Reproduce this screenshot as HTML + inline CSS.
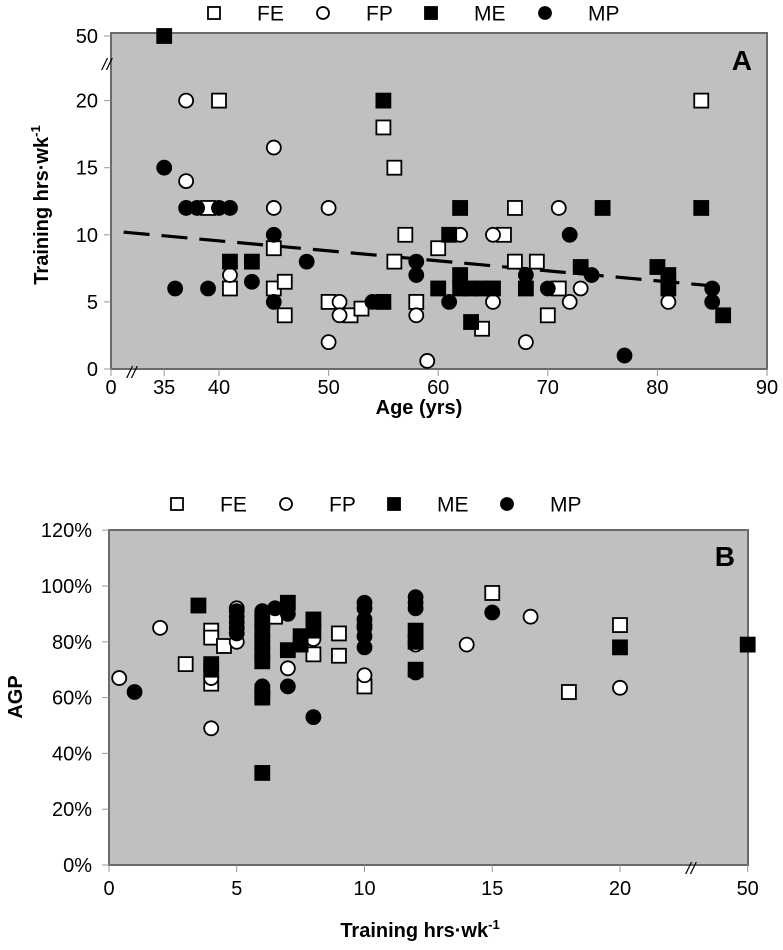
<!DOCTYPE html>
<html><head><meta charset="utf-8"><style>
body{margin:0;background:#fff;}
svg{display:block;font-family:"Liberation Sans",Arial,sans-serif;}
</style></head><body>
<svg id="fig" width="783" height="950" viewBox="0 0 783 950"></svg>
<script>
// ---------- Chart A data (age, training hrs/wk) ----------
const aFE_x=[40,55,56,39,57,60,45,56,41,45,46,46,50,52,53,58,84,67,66,67,69,71,70,64];
const aFE_y=[20,18,15,12,10,9,9,8,6,6,6.5,4,5,4,4.5,5,20,12,10,8,8,6,4,3];
const aFP_x=[37,45,37,45,50,41,51,51,58,50,59,62,65,71,73,65,72,81,68];
const aFP_y=[20,16.5,14,12,12,7,5,4,4,2,0.6,10,10,12,6,5,5,5,2];
const aME_x=[35,55,41,43,55,60,62,61,75,84,62,62,63,64,65,68,63,73,80,81,81,86];
const aME_y=[50,20,8,8,5,6,12,10,12,12,7,6,6,6,6,6,3.5,7.6,7.6,7,6,4];
const aMP_x=[35,37,38,40,41,45,48,36,39,43,45,54,58,58,61,68,70,72,74,77,85,85];
const aMP_y=[15,12,12,12,12,10,8,6,6,6.5,5,5,8,7,5,7,6,10,7,1,6,5];
const aTrendAge=[31.3,85.5];
const aTrendInt=9.55, aTrendSlope=-0.0745; // y = int + slope*(age-40)
const aXTicks=[0,35,40,50,60,70,80,90];
const aYTicks=[0,5,10,15,20,50];

// ---------- Chart B data (training hrs/wk, AGP %) ----------
const bFE_x=[3,4,4,4,4.5,6.5,8,9,9,10,15,20,18];
const bFE_y=[72,84,81.5,65,78.5,89,75.5,83,75,64,97.5,86,62];
const bFP_x=[0.4,2,4,4,5,5,7,10,10,8,14,16.5,20,12];
const bFP_y=[67,85,67,49,80,92,70.5,68,85,81,79,89,63.5,79];
const bME_x=[3.5,4,4,6,6,6,6,6,6,6,6,7,7,7.5,7.5,8,8,12,12,12,20,50];
const bME_y=[93,72,70,33,88,84,80,76,73,62,60,94,77,82,79,88,84,84,80,70,78,79];
const bMP_x=[1,5,5,5,5,5,6,6,6,6,6,6,6.5,7,7,8,10,10,10,10,10,10,12,12,12,12,12,15];
const bMP_y=[62,91,89,87,85,83,91,86,80,75,64,62,92,90,64,53,94,92,88,86,82,78,96,94,92,80,69,90.5];
const bXTicks=[0,5,10,15,20,50];
const bYTicks=[0,20,40,60,80,100,120];

const NS="http://www.w3.org/2000/svg";
const svg=document.getElementById('fig');
function mk(tag,attrs,parent,text){const e=document.createElementNS(NS,tag);for(const k in attrs)e.setAttribute(k,attrs[k]);if(text!==undefined)e.textContent=text;(parent||svg).appendChild(e);return e;}

function axA(a){return a===0?111:219+(a-40)*10.96;}
function ayA(v){return v>=50?36:369-v*13.42;}
function axB(h){return h>=50?747.7:109+h*25.55;}
function ayB(p){return 865-p*2.79;}

function marker(g,shape,x,y,filled,size){
  const s=size||14;
  let e;
  if(shape==='sq') e=mk('rect',{x:x-s/2,y:y-s/2,width:s,height:s,fill:filled?'#000':'#fff',stroke:'#000','stroke-width':1.8},g);
  else e=mk('circle',{cx:x,cy:y,r:s/2,fill:filled?'#000':'#fff',stroke:'#000','stroke-width':1.8},g);
  return e;
}

function legend(y,xs,name){
  const g=mk('g',{},svg);
  
  
  const items=[['sq',false,'FE'],['ci',false,'FP'],['sq',true,'ME'],['ci',true,'MP']];
  items.forEach((it,i)=>{
    const ge=mk('g',{},g);
    
    
    marker(ge,it[0],xs[i],y,it[1],12);
    mk('text',{x:xs[i]+43,y:y+7.5,'font-size':21},ge,it[2]);
  });
}

// ================= Chart A =================
legend(13,[214,323,431,545],'legend-a');
const gA=mk('g',{},svg);


const pA=mk('rect',{x:111,y:33,width:656,height:336,fill:'#c0c0c0',stroke:'#6a6a6a','stroke-width':2},gA);


aYTicks.forEach(v=>{
  const y=ayA(v);
  mk('line',{x1:104,y1:y,x2:111,y2:y,stroke:'#999','stroke-width':1},gA);
  const t=mk('text',{x:98,y:y+7,'font-size':20,'text-anchor':'end'},gA,String(v));
  
  
});
aXTicks.forEach(a=>{
  const x=axA(a);
  mk('line',{x1:x,y1:369,x2:x,y2:376,stroke:'#999','stroke-width':1},gA);
  const t=mk('text',{x:x,y:394,'font-size':20,'text-anchor':'middle'},gA,String(a));
  
  
});
mk('text',{x:102,y:70,'font-size':17,'font-style':'italic'},gA,'//');
mk('text',{x:127,y:378,'font-size':17,'font-style':'italic'},gA,'//');
const tl=mk('line',{x1:axA(aTrendAge[0]),y1:ayA(aTrendInt+aTrendSlope*(aTrendAge[0]-40)),x2:axA(aTrendAge[1]),y2:ayA(aTrendInt+aTrendSlope*(aTrendAge[1]-40)),stroke:'#000','stroke-width':3.2,'stroke-dasharray':'26 12'},gA);


function seriesA(xs,ys,shape,filled,name){
  const g=mk('g',{},gA);
  
  
  xs.forEach((x,i)=>{
    const m=marker(g,shape,axA(x),ayA(ys[i]),filled);
    
    
  });
}
seriesA(aFE_x,aFE_y,'sq',false,'series-fe-a');
seriesA(aFP_x,aFP_y,'ci',false,'series-fp-a');
seriesA(aME_x,aME_y,'sq',true,'series-me-a');
seriesA(aMP_x,aMP_y,'ci',true,'series-mp-a');
const la=mk('text',{x:752,y:70,'font-size':28,'font-weight':'bold','text-anchor':'end'},gA,'A');


const xta=mk('text',{x:419,y:414,'font-size':20,'font-weight':'bold','text-anchor':'middle'},gA,'Age (yrs)');


const yta=mk('text',{transform:'translate(48,205) rotate(-90)','font-size':20,'font-weight':'bold','text-anchor':'middle'},gA);


yta.innerHTML='Training hrs·wk<tspan font-size="13" dy="-8">-1</tspan>';

// ================= Chart B =================
legend(504,[177,286,394,507],'legend-b');
const gB=mk('g',{},svg);


const pB=mk('rect',{x:109,y:530,width:639,height:335,fill:'#c0c0c0',stroke:'#6a6a6a','stroke-width':2},gB);


bYTicks.forEach(v=>{
  const y=ayB(v);
  mk('line',{x1:102,y1:y,x2:109,y2:y,stroke:'#999','stroke-width':1},gB);
  const t=mk('text',{x:92,y:y+7,'font-size':20,'text-anchor':'end'},gB,v+'%');
  
  
});
bXTicks.forEach(h=>{
  const x=axB(h);
  mk('line',{x1:x,y1:865,x2:x,y2:872,stroke:'#999','stroke-width':1},gB);
  const t=mk('text',{x:x,y:895,'font-size':20,'text-anchor':'middle'},gB,String(h));
  
  
});
mk('text',{x:686,y:874,'font-size':17,'font-style':'italic'},gB,'//');
function seriesB(xs,ys,shape,filled,name){
  const g=mk('g',{},gB);
  
  
  xs.forEach((x,i)=>{
    const m=marker(g,shape,axB(x),ayB(ys[i]),filled);
    
    
  });
}
seriesB(bFE_x,bFE_y,'sq',false,'series-fe-b');
seriesB(bFP_x,bFP_y,'ci',false,'series-fp-b');
seriesB(bME_x,bME_y,'sq',true,'series-me-b');
seriesB(bMP_x,bMP_y,'ci',true,'series-mp-b');
const lb=mk('text',{x:735,y:566,'font-size':28,'font-weight':'bold','text-anchor':'end'},gB,'B');


const xtb=mk('text',{x:420,y:937,'font-size':20,'font-weight':'bold','text-anchor':'middle'},gB);


xtb.innerHTML='Training hrs·wk<tspan font-size="13" dy="-8">-1</tspan>';
const ytb=mk('text',{transform:'translate(22,697) rotate(-90)','font-size':20,'font-weight':'bold','text-anchor':'middle'},gB,'AGP');


</script>
</body></html>
